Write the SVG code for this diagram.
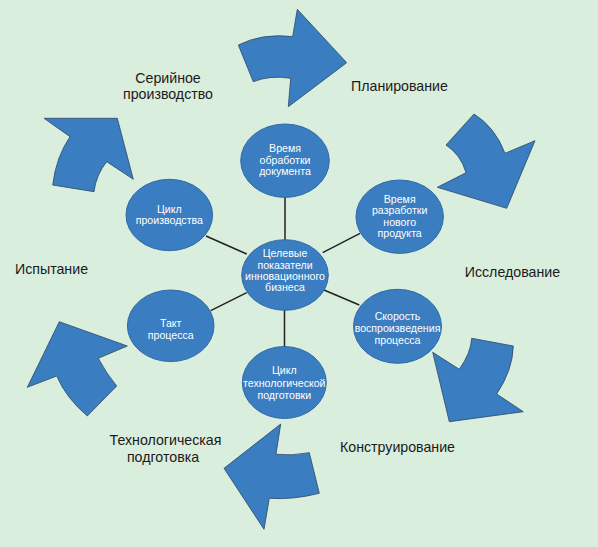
<svg xmlns="http://www.w3.org/2000/svg" width="598" height="547" viewBox="0 0 598 547">
<style>
.arrow{fill:#3a7dc1;stroke:#2b4866;stroke-width:0.8;stroke-linejoin:miter}
.node{fill:#3a7dc1;stroke:#2f6aa6;stroke-width:1}
.nt{font-family:"Liberation Sans",Arial,sans-serif;font-size:10.6px;fill:#ffffff;text-anchor:middle}
.lbl{font-family:"Liberation Sans",Arial,sans-serif;font-size:14.2px;fill:#1a1a1a;text-anchor:middle}
.conn{stroke:#222222;stroke-width:1.5;fill:none}
</style>
<rect x="0" y="0" width="598" height="547" fill="#daeedd"/>
<g id="arrows">
<path id="arrow-top" class="arrow" d="M238.3,45 Q262,33 292.7,36.5 L297.3,9.3 L346.7,62.7 L288.3,106.7 L290.7,78.3 Q270,75 253.3,81.7 Z"/>
<path id="arrow-right-top" class="arrow" d="M474,114 Q495,127 505,153.3 L535,140.7 L506.7,208.3 L437.3,187.3 L466,172.7 Q461,155 446,145 Z"/>
<path id="arrow-right-bottom" class="arrow" d="M471.7,338.3 L513.3,346 Q512.7,370 496.7,394 L523.3,411.7 L449.3,421.7 L432.7,352.3 L459.3,369.3 Q470.7,353.3 471.7,338.3 Z"/>
<path id="arrow-bottom" class="arrow" d="M280.7,424 L276,454.3 Q292,456 309.3,452.7 L319.3,493.3 Q293,500 269.3,498.3 L264,529.3 L224,468.3 Z"/>
<path id="arrow-left-bottom" class="arrow" d="M59.3,321.7 L127.3,346 L98.3,358.3 Q106,373 116.7,386 L87.3,416 Q66,398 56.7,376 L27.3,387.3 Z"/>
<path id="arrow-left-top" class="arrow" d="M44,118.3 L117.3,118.3 L133.3,179.3 L106.7,161.7 Q96,175 94,191.7 L52.7,185 Q56,157 70,136.7 Z"/>
</g>
<g id="connectors">
<line class="conn" x1="285" y1="197" x2="285" y2="240"/>
<line class="conn" x1="206" y1="236" x2="246.7" y2="254"/>
<line class="conn" x1="322.7" y1="252.7" x2="360" y2="233.3"/>
<line class="conn" x1="210.7" y1="310.7" x2="246.7" y2="292.7"/>
<line class="conn" x1="324" y1="290" x2="359.3" y2="305"/>
<line class="conn" x1="284.5" y1="309" x2="284.5" y2="347"/>
</g>
<g id="node-center">
<ellipse class="node" cx="285" cy="275" rx="43.3" ry="35.3"/>
<text class="nt" x="285" y="257">Целевые</text>
<text class="nt" x="285" y="268.7">показатели</text>
<text class="nt" x="285" y="280">инновационного</text>
<text class="nt" x="285" y="290.7">бизнеса</text>
</g>
<g id="node-top">
<ellipse class="node" cx="285" cy="160.7" rx="44.3" ry="36.7"/>
<text class="nt" x="285" y="152">Время</text>
<text class="nt" x="285" y="163.7">обработки</text>
<text class="nt" x="285" y="175.4">документа</text>
</g>
<g id="node-right-top">
<ellipse class="node" cx="399.7" cy="216.7" rx="43.7" ry="36.7"/>
<text class="nt" x="399.7" y="203">Время</text>
<text class="nt" x="399.7" y="214.4">разработки</text>
<text class="nt" x="399.7" y="225.7">нового</text>
<text class="nt" x="399.7" y="237">продукта</text>
</g>
<g id="node-right-bottom">
<ellipse class="node" cx="397.5" cy="326.3" rx="44" ry="37"/>
<text class="nt" x="397.5" y="320.4">Скорость</text>
<text class="nt" x="397.5" y="332">воспроизведения</text>
<text class="nt" x="397.5" y="343.7">процесса</text>
</g>
<g id="node-bottom">
<ellipse class="node" cx="284.3" cy="382.5" rx="42" ry="36"/>
<text class="nt" x="284.3" y="374.4">Цикл</text>
<text class="nt" x="284.3" y="387">технологической</text>
<text class="nt" x="284.3" y="398.7">подготовки</text>
</g>
<g id="node-left-bottom">
<ellipse class="node" cx="170.7" cy="325.8" rx="43.3" ry="35.8"/>
<text class="nt" x="170.7" y="327">Такт</text>
<text class="nt" x="170.7" y="338.7">процесса</text>
</g>
<g id="node-left-top">
<ellipse class="node" cx="169.3" cy="215" rx="43.3" ry="35.7"/>
<text class="nt" x="169.3" y="213">Цикл</text>
<text class="nt" x="169.3" y="224.4">производства</text>
</g>
<g id="labels">
<text class="lbl" x="399.5" y="91">Планирование</text>
<text class="lbl" x="512.4" y="277">Исследование</text>
<text class="lbl" x="397.5" y="451.7">Конструирование</text>
<text class="lbl" x="165.5" y="445">Технологическая</text>
<text class="lbl" x="163" y="461.7">подготовка</text>
<text class="lbl" x="51.5" y="274">Испытание</text>
<text class="lbl" x="168" y="83.3">Серийное</text>
<text class="lbl" x="168" y="99">производство</text>
</g>
</svg>
